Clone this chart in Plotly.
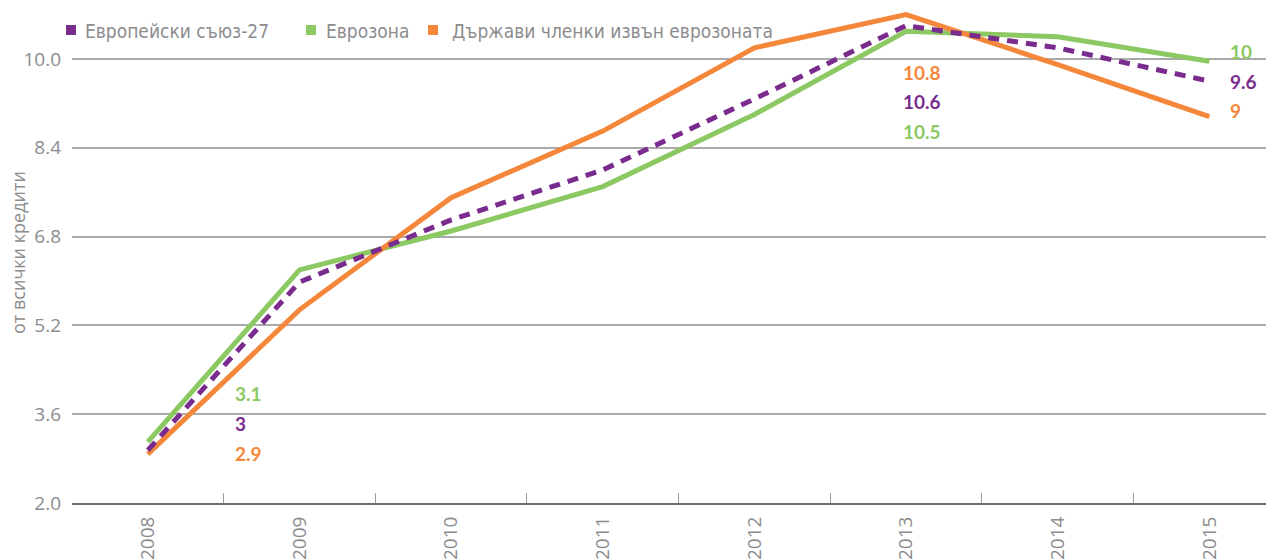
import plotly.graph_objects as go

years = ["2008", "2009", "2010", "2011", "2012", "2013", "2014", "2015"]
eu27 = [2.95, 5.98, 7.1, 8.0, 9.28, 10.6, 10.2, 9.6]
eurozone = [3.1, 6.2, 6.9, 7.7, 9.0, 10.5, 10.4, 9.96]
non_euro = [2.88, 5.48, 7.5, 8.7, 10.2, 10.8, 9.9, 8.96]

names = ["Европейски съюз-27", "Еврозона", "Държави членки извън еврозоната"]
y_ticks = [2.0, 3.6, 5.2, 6.8, 8.4, 10.0]
y_title = "от всички кредити"

PURPLE = "#7a2c8e"
GREEN = "#8cc963"
ORANGE = "#f5873b"
GRAY = "#8c8c8e"

# page has an 8px body margin; figure is sized/offset to compensate
OFF = 8
W, H = 1266, 552
L, R, T, B = 72 - OFF, 4, 9 - OFF, 57
PW = W - L - R
PH = H - T - B


def px_x(sx):  # screen x -> paper x
    return (sx - OFF - L) / PW


def px_y(sy):  # screen y -> paper y
    return 1 - (sy - OFF - T) / PH


fig = go.Figure()
fig.add_trace(go.Scatter(x=years, y=eurozone, mode="lines", name=names[1],
                         line=dict(color=GREEN, width=5), showlegend=False))
fig.add_trace(go.Scatter(x=years, y=non_euro, mode="lines", name=names[2],
                         line=dict(color=ORANGE, width=5), showlegend=False))
fig.add_trace(go.Scatter(x=years, y=eu27, mode="lines", name=names[0],
                         line=dict(color=PURPLE, width=5, dash="11px,8px"), showlegend=False))

ann = []
shapes = []
leg_font = dict(family="Liberation Sans Narrow, DejaVu Sans Condensed, Roboto, sans-serif",
                size=19, color=GRAY)
for name, col, sq, tx in zip(names, [PURPLE, GREEN, ORANGE], [66, 306, 428], [83, 324, 450]):
    shapes.append(dict(type="rect", xref="paper", yref="paper",
                       x0=px_x(sq), x1=px_x(sq + 10), y0=px_y(35), y1=px_y(25),
                       fillcolor=col, line=dict(width=0), layer="above"))
    ann.append(dict(xref="paper", yref="paper", x=px_x(tx), y=px_y(31),
                    xanchor="left", yanchor="middle", showarrow=False,
                    text=name, font=leg_font))

lab_font = dict(family="Lato, Open Sans, sans-serif", size=19)


def fmt(v):
    r = round(v, 1)
    return str(int(r)) if r == int(r) else f"{r:.1f}"


# value labels: (category index, x shift px, [(series values, colour, y position)])
groups = [
    (0, 85, [(eurozone, GREEN, 3.98), (eu27, PURPLE, 3.44), (non_euro, ORANGE, 2.9)]),
    (5, -5, [(non_euro, ORANGE, 9.75), (eu27, PURPLE, 9.23), (eurozone, GREEN, 8.70)]),
    (7, 19, [(eurozone, GREEN, 10.13), (eu27, PURPLE, 9.6), (non_euro, ORANGE, 9.08)]),
]
for idx, xs, items in groups:
    for series, col, ypos in items:
        ann.append(dict(x=idx, y=ypos, xref="x", yref="y", xshift=xs, xanchor="left",
                        yanchor="middle", showarrow=False,
                        text=f"<b>{fmt(series[idx])}</b>",
                        font=dict(lab_font, color=col)))

ann.append(dict(xref="paper", yref="paper", x=px_x(18), y=px_y(253),
                xanchor="center", yanchor="middle", showarrow=False, textangle=-90,
                text=y_title, font=dict(family="Open Sans, sans-serif", size=18, color=GRAY)))

fig.update_layout(
    width=W, height=H,
    margin=dict(l=L, r=R, t=T, b=B, autoexpand=False),
    paper_bgcolor="white", plot_bgcolor="white",
    showlegend=False,
    annotations=ann,
    shapes=shapes,
    xaxis=dict(type="category", range=[-0.5, 7.4], tickson="boundaries",
               ticks="inside", ticklen=10, tickcolor="#9a9a9a", tickwidth=1,
               showline=True, linecolor="#6e6e6e", linewidth=2, showgrid=False,
               tickangle=-90, tickfont=dict(family="Open Sans, sans-serif", size=19, color=GRAY),
               ticklabelstandoff=4),
    yaxis=dict(range=[2, 10.9], tickvals=y_ticks, tickformat=".1f",
               showgrid=True, gridcolor="#aaaaaa", gridwidth=1.5, zeroline=False,
               ticks="", tickfont=dict(family="Open Sans, sans-serif", size=19, color=GRAY),
               ticklabelstandoff=10),
)

fig.write_html("out.html")
